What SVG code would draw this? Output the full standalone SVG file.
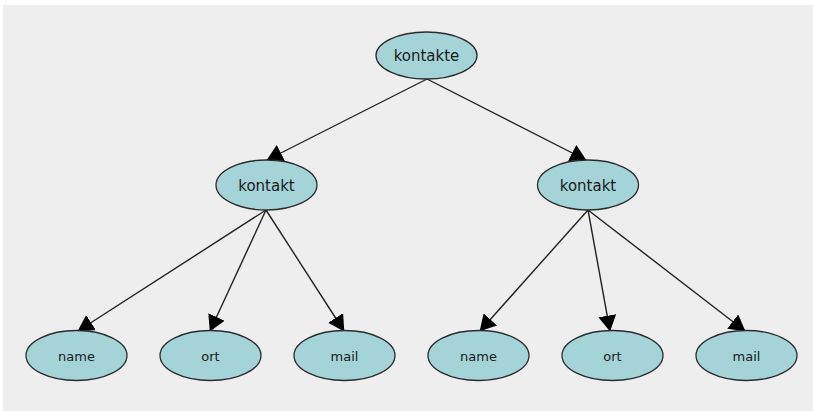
<svg xmlns="http://www.w3.org/2000/svg" width="813" height="411" viewBox="0 0 813 411">
  <style>
    .node ellipse { fill: #a4d4d8; stroke: #2b2b2b; stroke-width: 1.3; }
    .node text { font-family: "DejaVu Sans", Verdana, sans-serif; fill: #1a1a1a; text-anchor: middle; }
    .mid text { font-size: 15px; }
    .leaf text { font-size: 13px; }
    #edges line { stroke: #222; stroke-width: 1.4; marker-end: url(#arrow); }
  </style>
  <defs>
    <marker id="arrow" markerUnits="userSpaceOnUse" viewBox="0 0 16 18" refX="15.5" refY="9" markerWidth="16" markerHeight="18" orient="auto">
      <path d="M0,0 L16,9 L0,18 Z" fill="#000"/>
    </marker>
  </defs>

  <rect x="0" y="0" width="813" height="411" fill="#ffffff"/>
  <rect x="3" y="5" width="810" height="406" fill="#eeeeee"/>

  <g id="edges">
    <line x1="427" y1="79" x2="267" y2="160"/>
    <line x1="427" y1="79" x2="586" y2="160"/>
    <line x1="266" y1="210" x2="78" y2="331"/>
    <line x1="266" y1="210" x2="210" y2="331"/>
    <line x1="266" y1="210" x2="344" y2="331"/>
    <line x1="588" y1="210" x2="480" y2="331"/>
    <line x1="588" y1="210" x2="610" y2="331"/>
    <line x1="588" y1="210" x2="745" y2="331"/>
  </g>

  <g id="kontakte" class="node mid">
    <ellipse cx="426.5" cy="55.5" rx="50.5" ry="23.5"/>
    <text x="426.5" y="61">kontakte</text>
  </g>
  <g id="kontakt-1" class="node mid">
    <ellipse cx="266.5" cy="185" rx="50.5" ry="25"/>
    <text x="266.5" y="191">kontakt</text>
  </g>
  <g id="kontakt-2" class="node mid">
    <ellipse cx="588" cy="185" rx="50.5" ry="25"/>
    <text x="588" y="191">kontakt</text>
  </g>

  <g id="name-1" class="node leaf">
    <ellipse cx="76.5" cy="355.5" rx="50.5" ry="25"/>
    <text x="76.5" y="360.5">name</text>
  </g>
  <g id="ort-1" class="node leaf">
    <ellipse cx="210.5" cy="355.5" rx="50.5" ry="25"/>
    <text x="210.5" y="360.5">ort</text>
  </g>
  <g id="mail-1" class="node leaf">
    <ellipse cx="344.5" cy="355.5" rx="50.5" ry="25"/>
    <text x="344.5" y="360.5">mail</text>
  </g>
  <g id="name-2" class="node leaf">
    <ellipse cx="478.5" cy="355.5" rx="50.5" ry="25"/>
    <text x="478.5" y="360.5">name</text>
  </g>
  <g id="ort-2" class="node leaf">
    <ellipse cx="612.5" cy="355.5" rx="50.5" ry="25"/>
    <text x="612.5" y="360.5">ort</text>
  </g>
  <g id="mail-2" class="node leaf">
    <ellipse cx="746.5" cy="355.5" rx="50.5" ry="25"/>
    <text x="746.5" y="360.5">mail</text>
  </g>
</svg>
